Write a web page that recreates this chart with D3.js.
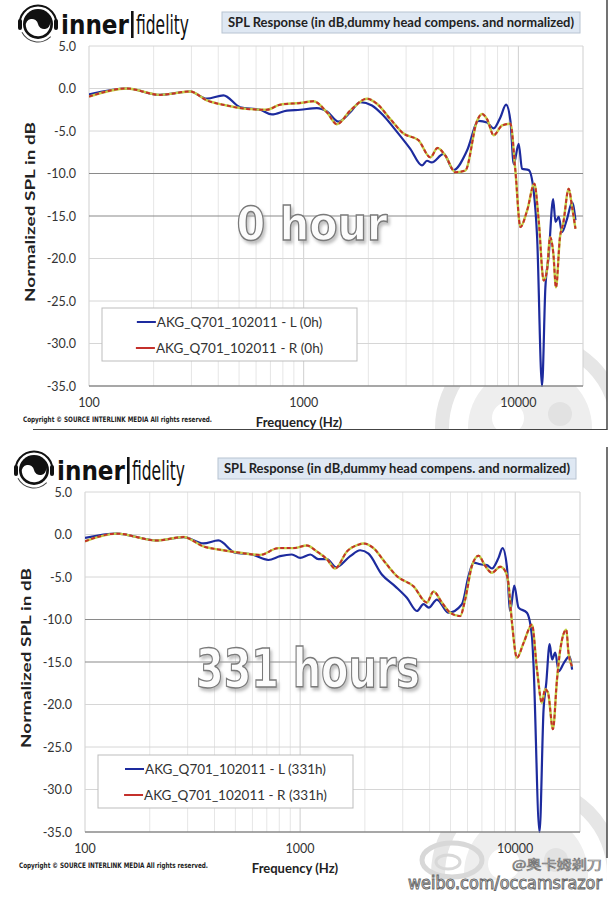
<!DOCTYPE html>
<html><head><meta charset="utf-8">
<script src="https://cdn.jsdelivr.net/npm/d3@7"></script>
<style>body{margin:0;background:#fff}svg{display:block}</style></head>
<body><svg id="c" width="615" height="900"></svg>
<script>
// ---------------- DATA ----------------
const yTicks = [5, 0, -5, -10, -15, -20, -25, -30, -35];
const xMajorTicks = [100, 1000, 10000];
const xDomain = [100, 20000];
const yDomain = [-35, 5];
const titleText = "SPL Response (in dB,dummy head compens. and normalized)";
const xTitle = "Frequency (Hz)";
const yTitle = "Normalized SPL in dB";
const copyrightText = "Copyright \u00A9 SOURCE INTERLINK MEDIA All rights reserved.";
const overlayLabels = ["0 hour", "331 hours"];
const legendL = ["AKG_Q701_102011 - L (0h)", "AKG_Q701_102011 - L (331h)"];
const legendR = ["AKG_Q701_102011 - R (0h)", "AKG_Q701_102011 - R (331h)"];

// 0 hour, left channel
const L0_freq = [100,150,214,296,354,423,506,627,711,835,963,1152,1283,1453,1648,1834,2080,2355,2720,3137,3557,3752,3946,4486,4990,5765,6531,7146,7672,8243,8766,9182,9520,10033,10400,11170,11776,12227,12888,13360,13830,14520,14890,15420,15960,16870,17800,18450];
const L0_db   = [-0.7,0.0,-0.75,-0.35,-1.2,-0.8,-2.2,-2.5,-3.05,-2.6,-2.5,-2.3,-2.7,-3.9,-2.8,-1.6,-2.0,-3.2,-5.1,-7.1,-9.05,-8.5,-8.7,-7.7,-9.6,-7.3,-3.8,-4.0,-4.7,-3.4,-1.9,-3.8,-8.9,-6.5,-9.45,-9.6,-12.0,-17.5,-35,-23.4,-19.8,-13.0,-15.7,-15.1,-16.9,-15.3,-13.4,-15.5];
// 0 hour, right channel
const R0_freq = [100,150,214,296,354,438,543,673,777,963,1111,1283,1428,1648,1970,2194,2532,2918,3429,3890,4200,4570,5085,5660,6420,6774,7146,7672,8395,9182,9683,10217,10985,11875,12432,13124,13590,14060,14550,14970,15620,16170,17160,17800,18450];
const R0_db   = [-0.95,0.0,-0.75,-0.35,-1.4,-2.0,-2.4,-2.5,-1.9,-1.7,-1.5,-2.8,-4.2,-2.6,-1.2,-1.8,-3.6,-5.3,-6.1,-8.1,-7.0,-7.9,-9.85,-9.65,-3.8,-3.0,-3.6,-5.5,-4.35,-4.15,-9.65,-16.3,-14.35,-11.2,-15.5,-22.6,-21.4,-17.5,-19.4,-23.4,-17.5,-15.9,-11.8,-14.0,-16.5];
// 331 hours, left channel
const L331_freq = [100,140,216,287,355,417,499,596,712,807,915,1000,1115,1217,1331,1470,1709,1901,2079,2398,2767,3135,3491,3746,3962,4325,4896,5652,6065,6399,6875,7377,7790,8361,8730,9138,9480,9896,10360,11330,11960,12150,12970,13540,13940,14450,14830,15350,15930,16840,17890,18380];
const L331_db   = [-0.4,0.1,-0.7,-0.3,-1.05,-0.7,-2.15,-2.35,-3.0,-2.55,-2.35,-2.75,-2.35,-2.9,-2.9,-3.85,-2.55,-1.85,-2.25,-4.7,-6.1,-7.45,-9.0,-8.2,-8.6,-7.65,-9.2,-8.2,-4.9,-3.3,-3.5,-3.6,-4.0,-2.75,-1.6,-3.7,-9.0,-6.0,-8.6,-9.2,-12.0,-15.1,-35,-20.6,-17.45,-12.9,-14.7,-13.9,-16.1,-15.1,-14.3,-15.9];
// 331 hours, right channel
const R331_freq = [100,140,216,287,355,425,526,651,793,931,1075,1196,1331,1455,1650,1867,1970,2193,2486,2818,3365,3884,4169,4562,4986,5546,5851,6289,6750,7250,7790,8517,8983,9290,9660,10185,10935,11960,12620,13310,13760,14200,14970,15630,16200,17270,17680,18380];
const R331_db   = [-0.8,0.1,-0.7,-0.3,-1.4,-1.8,-2.15,-2.4,-1.6,-1.6,-1.3,-2.0,-2.9,-4.0,-2.0,-1.2,-1.06,-1.6,-3.3,-4.9,-6.1,-8.0,-6.7,-8.0,-9.2,-9.6,-7.65,-3.7,-2.5,-3.7,-4.5,-3.8,-4.3,-5.7,-10.4,-14.5,-12.75,-10.6,-15.9,-19.8,-18.2,-18.6,-22.9,-17.1,-13.5,-11.2,-13.9,-15.5];

// ---------------- STYLE ----------------
const BLUE = "#1d2b9e", RED = "#c4302b", YG = "#c2cf45";
const FONT = "Lato, 'Open Sans', sans-serif";
const darkGrid = new Set([-10, -15, -35]);

const svg = d3.select("#c");
const defs = svg.append("defs");
const f = defs.append("filter").attr("id", "shadow").attr("x", "-10%").attr("y", "-20%").attr("width", "130%").attr("height", "150%");
f.append("feDropShadow").attr("dx", 2).attr("dy", 3).attr("stdDeviation", 1.6).attr("flood-color", "#999").attr("flood-opacity", 0.6);

svg.append("rect").attr("width", 615).attr("height", 900).attr("fill", "#fff");

const zip = (fr, v) => fr.map((d, i) => ({f: d, v: v[i]}));

const charts = [
  {dx: 0, dy: 0, left: 89, right: 583, top: 46, bottom: 386,
   L: zip(L0_freq, L0_db), R: zip(R0_freq, R0_db), label: overlayLabels[0], lab: {x: 312, y: 240, len: 151, size: 46},
   legL: legendL[0], legR: legendR[0], frameBottom: 430, wmBottom: 430},
  {dx: -4, dy: 446, left: 85, right: 580, top: 492, bottom: 832,
   L: zip(L331_freq, L331_db), R: zip(R331_freq, R331_db), label: overlayLabels[1], lab: {x: 308, y: 687, len: 224, size: 54},
   legL: legendL[1], legR: legendR[1], frameBottom: 858, wmBottom: 880}
];

function drawLogo(g, cx, cy) {
  const r = 15;
  g.append("path").attr("d", d3.arc()({innerRadius: r + 2.5, outerRadius: r + 4.5, startAngle: -Math.PI * 0.55, endAngle: Math.PI * 0.55}))
    .attr("transform", `translate(${cx},${cy})`).attr("fill", "#111");
  g.append("path").attr("d", d3.arc()({innerRadius: r + 2.5, outerRadius: r + 3.5, startAngle: Math.PI * 0.75, endAngle: Math.PI * 1.35}))
    .attr("transform", `translate(${cx},${cy})`).attr("fill", "#444");
  g.append("circle").attr("cx", cx).attr("cy", cy).attr("r", r).attr("fill", "#111");
  const p = `M${-r},0 A${r},${r} 0 0 0 ${r},0 A${r/2},${r/2} 0 0 1 0,0 A${r/2},${r/2} 0 0 0 ${-r},0 Z`;
  g.append("path").attr("d", p).attr("transform", `translate(${cx},${cy}) rotate(-10) scale(0.82)`).attr("fill", "#fff");
  g.append("circle").attr("cx", cx - 6).attr("cy", cy + 1).attr("r", 2.2).attr("fill", "#fff");
  g.append("circle").attr("cx", cx + 6).attr("cy", cy - 1).attr("r", 2.2).attr("fill", "#111");
  g.append("rect").attr("x", cx - r - 5).attr("y", cy - 5).attr("width", 4).attr("height", 11).attr("rx", 2).attr("fill", "#111");
  g.append("rect").attr("x", cx + r + 1).attr("y", cy - 5).attr("width", 4).attr("height", 11).attr("rx", 2).attr("fill", "#111");
}

function drawWatermark(g, cx, cy, clipBottom, clipRight, id) {
  const cp = defs.append("clipPath").attr("id", id);
  cp.append("rect").attr("x", 400).attr("y", cy - 140).attr("width", clipRight - 400).attr("height", clipBottom - (cy - 140));
  const w = g.append("g").attr("clip-path", `url(#${id})`);
  w.append("circle").attr("cx", cx).attr("cy", cy).attr("r", 88).attr("fill", "none").attr("stroke", "#e6e6e6").attr("stroke-width", 14);
  w.append("circle").attr("cx", cx).attr("cy", cy).attr("r", 62).attr("fill", "#eeeeee");
  w.append("circle").attr("cx", cx - 22).attr("cy", cy - 10).attr("r", 16).attr("fill", "#fff");
  w.append("circle").attr("cx", cx + 30).attr("cy", cy - 14).attr("r", 12).attr("fill", "#e2e2e2");
}

charts.forEach((c, idx) => {
  const g = svg.append("g");
  const x = d3.scaleLog().domain(xDomain).range([c.left, c.right]);
  const y = d3.scaleLinear().domain(yDomain).range([c.bottom, c.top]);

  drawWatermark(g, 530 + c.dx, 428 + c.dy, c.wmBottom, 607, "wm" + idx);

  g.append("rect").attr("x", c.left).attr("y", c.top).attr("width", c.right - c.left).attr("height", c.bottom - c.top).attr("fill", "#fff");

  const minor = [];
  for (let dec = 100; dec < 20000; dec *= 10) for (let k = 1; k <= 9; k++) { const v = dec * k; if (v <= 20000) minor.push(v); }
  g.selectAll(".vg").data(minor).join("line")
    .attr("x1", d => x(d)).attr("x2", d => x(d)).attr("y1", c.top).attr("y2", c.bottom)
    .attr("stroke", d => xMajorTicks.includes(d) || d === 20000 ? "#cfcfcf" : "#e6e6e6").attr("stroke-width", 1);

  g.selectAll(".hg").data(yTicks).join("line")
    .attr("x1", c.left).attr("x2", c.right).attr("y1", d => y(d)).attr("y2", d => y(d))
    .attr("stroke", d => darkGrid.has(d) ? "#8a8a8a" : "#d6d6d6").attr("stroke-width", d => darkGrid.has(d) ? 1.2 : 1);

  g.selectAll(".yl").data(yTicks).join("text")
    .attr("x", c.left - 13).attr("y", d => y(d) + 4.5).attr("text-anchor", "end")
    .attr("font-family", FONT).attr("font-size", 12.5).attr("fill", "#333")
    .text(d => d.toFixed(1));

  g.selectAll(".xl").data(xMajorTicks).join("text")
    .attr("x", d => x(d)).attr("y", c.bottom + 21).attr("text-anchor", "middle")
    .attr("font-family", FONT).attr("font-size", 12.5).attr("fill", "#333")
    .text(d => d);

  g.append("text").attr("x", 299 + c.dx).attr("y", 427 + c.dy).attr("text-anchor", "middle")
    .attr("font-family", FONT).attr("font-weight", "bold").attr("font-size", 13).attr("fill", "#222").text(xTitle);
  g.append("text").attr("transform", `translate(${35 + c.dx},${212 + c.dy}) rotate(-90)`).attr("text-anchor", "middle")
    .attr("font-family", FONT).attr("font-weight", "bold").attr("font-size", 14).attr("fill", "#222")
    .attr("textLength", 180).attr("lengthAdjust", "spacingAndGlyphs").text(yTitle);

  g.append("text").attr("x", 23 + c.dx).attr("y", 422 + c.dy)
    .attr("font-family", "'Liberation Sans Narrow', 'DejaVu Sans Condensed', sans-serif").attr("font-weight", "bold")
    .attr("font-size", 7.5).attr("fill", "#222").attr("textLength", 189).attr("lengthAdjust", "spacingAndGlyphs").text(copyrightText);

  g.append("rect").attr("x", 222 + c.dx).attr("y", 12 + c.dy).attr("width", 358).attr("height", 21)
    .attr("fill", "#dfe8f3").attr("stroke", "#b8c4d2").attr("stroke-width", 1);
  g.append("text").attr("x", 401 + c.dx).attr("y", 27 + c.dy).attr("text-anchor", "middle")
    .attr("font-family", FONT).attr("font-weight", "bold").attr("font-size", 12.5).attr("fill", "#222")
    .attr("textLength", 346).attr("lengthAdjust", "spacingAndGlyphs").text(titleText);

  drawLogo(g, 38 + c.dx, 24 + c.dy);
  const lf = "'Liberation Sans Narrow', 'DejaVu Sans Condensed', 'Arial Narrow', sans-serif";
  g.append("text").attr("x", 61 + c.dx).attr("y", 34 + c.dy).attr("font-family", lf).attr("font-weight", "bold")
    .attr("font-size", 27).attr("fill", "#111").attr("textLength", 68).attr("lengthAdjust", "spacingAndGlyphs").text("inner");
  g.append("rect").attr("x", 131 + c.dx).attr("y", 11 + c.dy).attr("width", 2.6).attr("height", 27).attr("fill", "#111");
  g.append("text").attr("x", 136 + c.dx).attr("y", 34 + c.dy).attr("font-family", lf)
    .attr("font-size", 27).attr("fill", "#111").attr("textLength", 53).attr("lengthAdjust", "spacingAndGlyphs").text("fidelity");

  g.append("text").attr("x", c.lab.x).attr("y", c.lab.y).attr("text-anchor", "middle")
    .attr("font-family", "'DejaVu Sans', sans-serif").attr("font-weight", "bold").attr("font-size", c.lab.size)
    .attr("fill", "#fcfcfc").attr("stroke", "#7a7a7a").attr("stroke-width", 1.4).attr("filter", "url(#shadow)")
    .attr("textLength", c.lab.len).attr("lengthAdjust", "spacingAndGlyphs").text(c.label);

  const lgX = 102 + c.dx, lgY = 308 + c.dy + (idx ? 1 : 0), lgW = 255, lgH = 53;
  g.append("rect").attr("x", lgX).attr("y", lgY).attr("width", lgW).attr("height", lgH)
    .attr("fill", "#fff").attr("stroke", "#bdbdbd").attr("stroke-width", 1);
  const entries = [{t: c.legL, col: BLUE, dy: 14}, {t: c.legR, col: RED, dy: 40}];
  entries.forEach(e => {
    const t = g.append("text").attr("y", lgY + e.dy + 4.5).attr("font-family", FONT).attr("font-size", 13.5).attr("fill", "#333").text(e.t);
    const tw = t.node().getComputedTextLength();
    const start = lgX + lgW / 2 - (20 + tw) / 2;
    t.attr("x", start + 20);
    g.append("line").attr("x1", start).attr("x2", start + 19).attr("y1", lgY + e.dy).attr("y2", lgY + e.dy)
      .attr("stroke", e.col).attr("stroke-width", 2);
  });

  const cp = defs.append("clipPath").attr("id", "plot" + idx);
  cp.append("rect").attr("x", c.left).attr("y", c.top).attr("width", c.right - c.left).attr("height", c.bottom - c.top + 1);
  const pl = g.append("g").attr("clip-path", `url(#plot${idx})`);
  const line = d3.line().x(d => x(d.f)).y(d => y(d.v)).curve(d3.curveMonotoneX);
  pl.append("path").attr("d", line(c.L)).attr("fill", "none").attr("stroke", BLUE).attr("stroke-width", 2.2).attr("stroke-linejoin", "round");
  pl.append("path").attr("d", line(c.R)).attr("fill", "none").attr("stroke", YG).attr("stroke-width", 2.4).attr("stroke-linejoin", "round");
  pl.append("path").attr("d", line(c.R)).attr("fill", "none").attr("stroke", RED).attr("stroke-width", 2)
    .attr("stroke-dasharray", "4,2.5").attr("stroke-linejoin", "round");

  g.append("line").attr("x1", c.left).attr("x2", c.right).attr("y1", c.bottom).attr("y2", c.bottom).attr("stroke", "#8a8a8a").attr("stroke-width", 1.2);

  g.append("line").attr("x1", 607).attr("x2", 607).attr("y1", c.dy === 0 ? 0 : 447).attr("y2", c.frameBottom)
    .attr("stroke", "#444").attr("stroke-width", 1.5);
  if (idx === 0) g.append("line").attr("x1", 33).attr("x2", 607).attr("y1", 429.5).attr("y2", 429.5).attr("stroke", "#444").attr("stroke-width", 1.2);
});

// weibo watermark
const wm = svg.append("g");
wm.append("ellipse").attr("cx", 452).attr("cy", 860).attr("rx", 30).attr("ry", 17).attr("fill", "none").attr("stroke", "#d8d8d8").attr("stroke-width", 5);
wm.append("ellipse").attr("cx", 448).attr("cy", 862).attr("rx", 12).attr("ry", 7).attr("fill", "none").attr("stroke", "#d8d8d8").attr("stroke-width", 3);
wm.append("text").attr("x", 512).attr("y", 869).attr("font-family", "'Noto Sans CJK SC', sans-serif").attr("font-size", 13)
  .attr("fill", "#f6f6f6").attr("stroke", "#777").attr("stroke-width", 0.7)
  .attr("textLength", 90).attr("lengthAdjust", "spacingAndGlyphs").text("@奥卡姆剃刀");
wm.append("text").attr("x", 408).attr("y", 889).attr("font-family", "'DejaVu Sans Condensed', 'DejaVu Sans', sans-serif").attr("font-size", 17)
  .attr("fill", "#f4f4f4").attr("stroke", "#666").attr("stroke-width", 0.9)
  .attr("textLength", 194).attr("lengthAdjust", "spacingAndGlyphs").text("weibo.com/occamsrazor");
</script>
</body></html>
